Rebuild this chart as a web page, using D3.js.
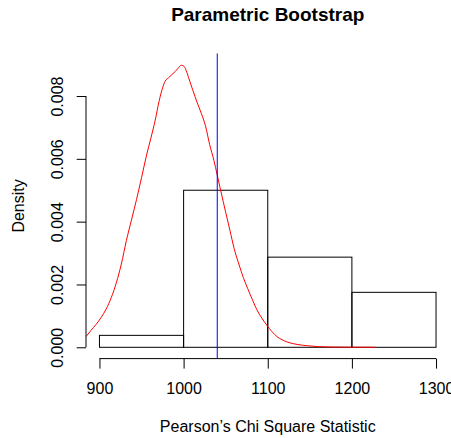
<!DOCTYPE html>
<html>
<head>
<meta charset="utf-8">
<script src="https://cdn.jsdelivr.net/npm/d3@7"></script>
<style>
  html, body { margin: 0; padding: 0; background: #fff; }
  svg text { font-family: "Liberation Sans", Arial, Helvetica, sans-serif; fill: #000; }
</style>
</head>
<body>
<div class="canvas"></div>
<script>
// histogram breaks and densities
const breaks = [900, 1000, 1100, 1200, 1300];
const barDensity = [0.00038, 0.0050, 0.00287, 0.00175];

// kernel density curve
const densX = [884, 890, 896, 902, 908, 914, 920, 926, 932, 938, 944, 950, 956, 961, 966, 971,
  975, 978, 982, 986, 990, 994, 997, 1000, 1002, 1006, 1011, 1016, 1021, 1026, 1031, 1036,
  1040, 1044, 1050, 1055, 1060, 1066, 1071, 1076, 1082, 1087, 1093, 1099, 1105, 1111, 1117,
  1123, 1135, 1147, 1160, 1174, 1190, 1210, 1228];
const densY = [0.00034, 0.00054, 0.00073, 0.00095, 0.00122, 0.00158, 0.00205, 0.00265, 0.00340,
  0.00405, 0.00470, 0.00540, 0.00612, 0.00665, 0.00720, 0.00785,
  0.00826, 0.00847, 0.00858, 0.00868, 0.00878, 0.00890, 0.00898, 0.00896, 0.00888, 0.00858,
  0.00818, 0.00780, 0.00745, 0.00705, 0.00645, 0.00595,
  0.00548, 0.00500, 0.00430, 0.00373, 0.00315, 0.00262, 0.00222, 0.00188, 0.00150, 0.00120,
  0.00093, 0.00070, 0.00050, 0.00034, 0.00024,
  0.00017, 0.00009, 0.00005, 0.00002, 0.00001, 0.000005, 0.000002, 0];

// observed statistic
const observed = 1040;

const xTicks = [900, 1000, 1100, 1200, 1300];
const yTicks = [0, 0.002, 0.004, 0.006, 0.008];
const yMax = 0.009;

const width = 451, height = 438;
const plot = { left: 86, right: 449.5, top: 53.3, bottom: 358.6 };

const svg = d3.select('.canvas')
  .append('svg')
  .attr('width', width)
  .attr('height', height);

// R style 4% extension of the ranges
const xPad = (breaks[breaks.length - 1] - breaks[0]) * 0.04;
const yPad = yMax * 0.04;

const x = d3.scaleLinear()
  .domain([breaks[0] - xPad, breaks[breaks.length - 1] + xPad])
  .range([plot.left, plot.right]);

const y = d3.scaleLinear()
  .domain([-yPad, yMax + yPad])
  .range([plot.bottom, plot.top]);

svg.append('clipPath')
  .attr('id', 'plotclip')
  .append('rect')
  .attr('x', plot.left)
  .attr('y', plot.top)
  .attr('width', plot.right - plot.left)
  .attr('height', plot.bottom - plot.top);

// bars
const bins = barDensity.map((d, i) => ({ x0: breaks[i], x1: breaks[i + 1], d: d }));
svg.append('g')
  .selectAll('rect')
  .data(bins)
  .enter()
  .append('rect')
  .attr('x', d => x(d.x0))
  .attr('y', d => y(d.d))
  .attr('width', d => x(d.x1) - x(d.x0))
  .attr('height', d => y(0) - y(d.d))
  .attr('fill', 'none')
  .attr('stroke', '#000')
  .attr('stroke-width', 1);

// density curve
const line = d3.line()
  .x(d => x(d[0]))
  .y(d => y(d[1]))
  .curve(d3.curveMonotoneX);

svg.append('path')
  .datum(densX.map((v, i) => [v, densY[i]]))
  .attr('clip-path', 'url(#plotclip)')
  .attr('d', line)
  .attr('fill', 'none')
  .attr('stroke', 'red')
  .attr('stroke-width', 1);

// observed value
svg.append('line')
  .attr('clip-path', 'url(#plotclip)')
  .attr('x1', x(observed))
  .attr('x2', x(observed))
  .attr('y1', plot.top)
  .attr('y2', plot.bottom)
  .attr('stroke', 'blue')
  .attr('stroke-width', 1);

// x axis
const xAxisGroup = svg.append('g')
  .attr('transform', `translate(0, ${plot.bottom})`);
xAxisGroup.call(d3.axisBottom(x).tickValues(xTicks).tickSize(10).tickFormat(d3.format('d')));
xAxisGroup.select('.domain').remove();
xAxisGroup.append('line')
  .attr('x1', x(xTicks[0]))
  .attr('x2', x(xTicks[xTicks.length - 1]))
  .attr('stroke', '#000');
xAxisGroup.selectAll('.tick text')
  .attr('y', 35.5)
  .attr('dy', 0)
  .style('font-size', '16px');

// y axis
const yAxisGroup = svg.append('g')
  .attr('transform', `translate(${plot.left}, 0)`);
yAxisGroup.call(d3.axisLeft(y).tickValues(yTicks).tickSize(9.3).tickFormat(d3.format('.3f')));
yAxisGroup.select('.domain').remove();
yAxisGroup.append('line')
  .attr('y1', y(yTicks[0]))
  .attr('y2', y(yTicks[yTicks.length - 1]))
  .attr('stroke', '#000');
yAxisGroup.selectAll('.tick text')
  .attr('transform', 'rotate(-90)')
  .attr('x', 0)
  .attr('y', -23)
  .attr('dy', 0)
  .attr('text-anchor', 'middle')
  .style('font-size', '16px');

svg.selectAll('.tick line').attr('stroke', '#000');

// titles
const midX = (plot.left + plot.right) / 2;
svg.append('text')
  .attr('x', midX)
  .attr('y', 21)
  .attr('text-anchor', 'middle')
  .style('font-size', '19px')
  .style('font-weight', 'bold')
  .text('Parametric Bootstrap');

svg.append('text')
  .attr('x', midX)
  .attr('y', 432)
  .attr('text-anchor', 'middle')
  .style('font-size', '16px')
  .text('Pearson’s Chi Square Statistic');

svg.append('text')
  .attr('transform', `translate(24, ${(plot.top + plot.bottom) / 2}) rotate(-90)`)
  .attr('text-anchor', 'middle')
  .style('font-size', '16px')
  .text('Density');
</script>
</body>
</html>
